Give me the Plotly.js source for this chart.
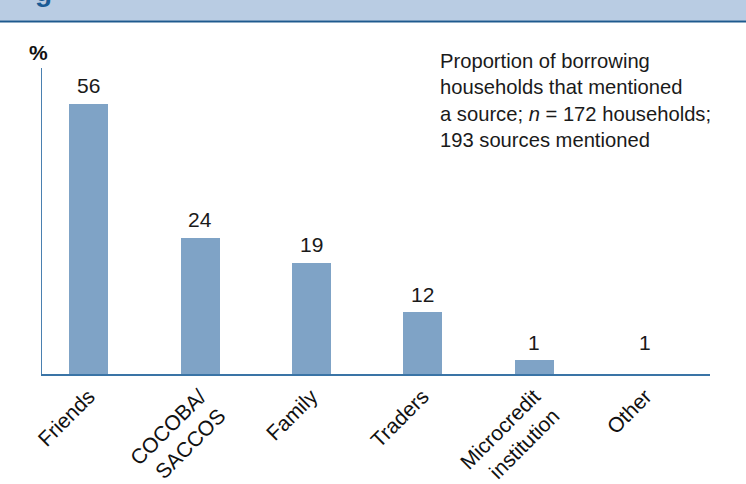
<!DOCTYPE html>
<html>
<head>
<meta charset="utf-8">
<script src="https://cdn.plot.ly/plotly-3.0.1.min.js"></script>
<style>html,body{margin:0;padding:0;background:#fff;}#chart{width:746px;height:484px;}</style>
</head>
<body>
<div id="chart"></div>
<script>
// Categories (tick labels)
const categories = ["Friends", "COCOBA/<br>SACCOS", "Family", "Traders", "Microcredit<br>institution", "Other"];
// Bar heights as drawn in the reference (in % axis units)
const barHeights = [56, 28.3, 23.1, 12.8, 2.9, 2.9];
// Value labels printed above the bars
const valueLabels = ["56", "24", "19", "12", "1", "1"];
const noteText = "Proportion of borrowing<br>households that mentioned<br>a source; <i>n</i> = 172 households;<br>193 sources mentioned";

const FONT = "'Liberation Sans', Arial, sans-serif";
const barColors = barHeights.map((v, i) => i === barHeights.length - 1 ? "rgba(0,0,0,0)" : "#7fa3c6");

const xIdx = categories.map((c, i) => i);

const trace = {
  type: "bar",
  x: xIdx,
  y: barHeights,
  width: 0.35,
  marker: {color: barColors, line: {width: 0}},
  hoverinfo: "skip"
};

// plot area pixel geometry
const L = 42, R = 36, T = 68, B = 109.5, W = 746, H = 484;
const pw = W - L - R, ph = H - T - B;
const px2x = px => (px - L) / pw;
const py2y = py => (H - B - py) / ph;

const annotations = barHeights.map((h, i) => ({
  x: i, y: h, xref: "x", yref: "y",
  text: valueLabels[i], showarrow: false,
  yanchor: "middle", yshift: 18,
  font: {family: FONT, size: 21, color: "#1a1a1a"}
}));

annotations.push({
  xref: "paper", yref: "paper", x: px2x(438), y: py2y(48),
  xanchor: "left", yanchor: "top", align: "left",
  text: noteText, showarrow: false,
  font: {family: FONT, size: 20.2, color: "#1a1a1a"}
});
annotations.push({
  xref: "paper", yref: "paper", x: px2x(27), y: py2y(52),
  xanchor: "left", yanchor: "middle",
  text: "<b>%</b>", showarrow: false,
  font: {family: FONT, size: 21, color: "#111"}
});
annotations.push({
  xref: "paper", yref: "paper", x: px2x(33), y: py2y(-9),
  xanchor: "left", yanchor: "middle",
  text: "<b>g</b>", showarrow: false,
  font: {family: FONT, size: 28, color: "#1a5a94"}
});

const layout = {
  width: W, height: H,
  margin: {l: L, r: R, t: T, b: B, pad: 0},
  paper_bgcolor: "#ffffff",
  plot_bgcolor: "#ffffff",
  showlegend: false,
  bargap: 0,
  xaxis: {
    range: [-0.42, 5.58],
    tickmode: "array", tickvals: xIdx, ticktext: categories,
    tickangle: -45,
    ticks: "", showgrid: false, zeroline: false,
    showline: true, linecolor: "#3a74a6", linewidth: 2,
    tickfont: {family: FONT, size: 21, color: "#111"},
    fixedrange: true
  },
  yaxis: {
    range: [0, (H - B - T) / 4.83],
    showticklabels: false, ticks: "", showgrid: false, zeroline: false,
    showline: true, linecolor: "#4a80b0", linewidth: 1.5,
    fixedrange: true
  },
  shapes: [
    {type: "rect", xref: "paper", yref: "paper", x0: px2x(-5), x1: px2x(760), y0: py2y(20.7), y1: py2y(-5),
     fillcolor: "#b9cce3", line: {width: 0}, layer: "below"},
    {type: "line", xref: "paper", yref: "paper", x0: px2x(-5), x1: px2x(760), y0: py2y(21.3), y1: py2y(21.3),
     line: {color: "#1e5a8e", width: 2}}
  ],
  annotations: annotations
};

Plotly.newPlot("chart", [trace], layout, {displayModeBar: false, staticPlot: true});
</script>
</body>
</html>
